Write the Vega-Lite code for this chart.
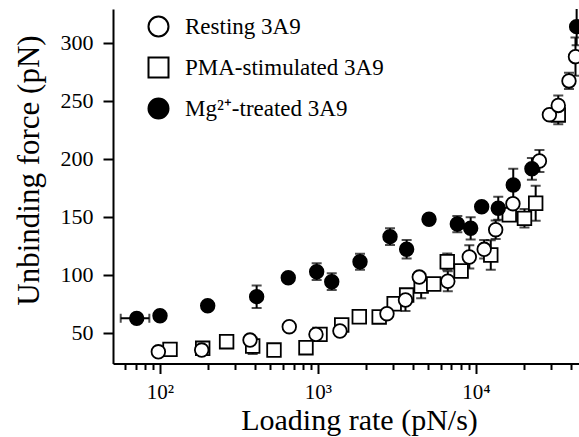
{
  "$schema": "https://vega.github.io/schema/vega-lite/v6.json",
  "width": 466,
  "height": 354.5,
  "autosize": {"type": "none"},
  "padding": {"left": 113, "top": 9, "right": 0, "bottom": 73.5},
  "config": {
    "font": "Liberation Serif",
    "view": {"stroke": null},
    "axis": {
      "grid": false,
      "domainColor": "black",
      "domainWidth": 2,
      "tickColor": "black",
      "tickWidth": 2,
      "labelColor": "black",
      "labelFont": "Liberation Serif",
      "labelFontSize": 22,
      "titleFont": "Liberation Serif",
      "titleFontSize": 31,
      "titleFontWeight": "normal",
      "titleColor": "black"
    },
    "legend": {
      "title": null,
      "orient": "none",
      "legendX": 34,
      "legendY": 6,
      "padding": 0,
      "symbolSize": 400,
      "symbolStrokeWidth": 2,
      "labelFontSize": 23,
      "labelFont": "Liberation Serif",
      "labelColor": "black",
      "labelOffset": 15,
      "labelLimit": 400,
      "rowPadding": 12
    }
  },
  "data": {
    "values": [
      {"group": "PMA-stimulated 3A9", "rate": 115.7, "force": 35.7},
      {"group": "PMA-stimulated 3A9", "rate": 186.3, "force": 36.6},
      {"group": "PMA-stimulated 3A9", "rate": 264, "force": 42.3},
      {"group": "PMA-stimulated 3A9", "rate": 386, "force": 38.6, "lo": 31.6, "hi": 45.6},
      {"group": "PMA-stimulated 3A9", "rate": 526.7, "force": 35.1},
      {"group": "PMA-stimulated 3A9", "rate": 839.5, "force": 37.1},
      {"group": "PMA-stimulated 3A9", "rate": 1030, "force": 48.6},
      {"group": "PMA-stimulated 3A9", "rate": 1413, "force": 56.7},
      {"group": "PMA-stimulated 3A9", "rate": 1826, "force": 63.8},
      {"group": "PMA-stimulated 3A9", "rate": 2440, "force": 63.6},
      {"group": "PMA-stimulated 3A9", "rate": 3035, "force": 75},
      {"group": "PMA-stimulated 3A9", "rate": 3641, "force": 82.5},
      {"group": "PMA-stimulated 3A9", "rate": 4500, "force": 90.3, "lo": 79.7, "hi": 100.9},
      {"group": "PMA-stimulated 3A9", "rate": 5400, "force": 92},
      {"group": "PMA-stimulated 3A9", "rate": 6580, "force": 111.2, "lo": 104.2, "hi": 118.2},
      {"group": "PMA-stimulated 3A9", "rate": 8055, "force": 103.2},
      {"group": "PMA-stimulated 3A9", "rate": 12410, "force": 117, "lo": 104.2, "hi": 129.8},
      {"group": "PMA-stimulated 3A9", "rate": 16250, "force": 151.7},
      {"group": "PMA-stimulated 3A9", "rate": 20280, "force": 148.6, "lo": 140.6, "hi": 156.6},
      {"group": "PMA-stimulated 3A9", "rate": 23880, "force": 161.6, "lo": 146.6, "hi": 176.6},
      {"group": "PMA-stimulated 3A9", "rate": 33190, "force": 237.7, "lo": 229.7, "hi": 245.7},
      {"group": "Resting 3A9", "rate": 97.6, "force": 33.6},
      {"group": "Resting 3A9", "rate": 183.6, "force": 35.1},
      {"group": "Resting 3A9", "rate": 371.3, "force": 43.7},
      {"group": "Resting 3A9", "rate": 658, "force": 55.2},
      {"group": "Resting 3A9", "rate": 971, "force": 48.6},
      {"group": "Resting 3A9", "rate": 1377, "force": 51.5},
      {"group": "Resting 3A9", "rate": 2733, "force": 66.4},
      {"group": "Resting 3A9", "rate": 3580, "force": 78.2, "lo": 68.7, "hi": 87.7},
      {"group": "Resting 3A9", "rate": 4377, "force": 98},
      {"group": "Resting 3A9", "rate": 6633, "force": 94.4, "lo": 85.8, "hi": 103},
      {"group": "Resting 3A9", "rate": 9075, "force": 115.3, "lo": 105.3, "hi": 125.3},
      {"group": "Resting 3A9", "rate": 11270, "force": 121.9, "lo": 113.9, "hi": 129.9},
      {"group": "Resting 3A9", "rate": 13330, "force": 138.8, "lo": 130.8, "hi": 146.8},
      {"group": "Resting 3A9", "rate": 17140, "force": 161.2},
      {"group": "Resting 3A9", "rate": 25220, "force": 198, "lo": 188.5, "hi": 207.5},
      {"group": "Resting 3A9", "rate": 29170, "force": 237.9},
      {"group": "Resting 3A9", "rate": 33190, "force": 245.9, "lo": 237.3, "hi": 254.5},
      {"group": "Resting 3A9", "rate": 38800, "force": 267, "lo": 260, "hi": 274},
      {"group": "Resting 3A9", "rate": 42660, "force": 287.9, "lo": 271.4, "hi": 304.4},
      {"group": "Mg²⁺-treated 3A9", "rate": 71.2, "force": 62.4, "xlo": 56.4, "xhi": 85.6},
      {"group": "Mg²⁺-treated 3A9", "rate": 100, "force": 64.7},
      {"group": "Mg²⁺-treated 3A9", "rate": 200.4, "force": 73.3},
      {"group": "Mg²⁺-treated 3A9", "rate": 409, "force": 81.1, "lo": 71.4, "hi": 90.8},
      {"group": "Mg²⁺-treated 3A9", "rate": 648.6, "force": 97.4},
      {"group": "Mg²⁺-treated 3A9", "rate": 981, "force": 102.6, "lo": 95.4, "hi": 109.8},
      {"group": "Mg²⁺-treated 3A9", "rate": 1222, "force": 94, "lo": 86.8, "hi": 101.2},
      {"group": "Mg²⁺-treated 3A9", "rate": 1845, "force": 111.2, "lo": 104.3, "hi": 118.1},
      {"group": "Mg²⁺-treated 3A9", "rate": 2857, "force": 132.8, "lo": 125.6, "hi": 140},
      {"group": "Mg²⁺-treated 3A9", "rate": 3641, "force": 121.9, "lo": 113.9, "hi": 129.9},
      {"group": "Mg²⁺-treated 3A9", "rate": 5045, "force": 147.8},
      {"group": "Mg²⁺-treated 3A9", "rate": 7621, "force": 143.7, "lo": 136.7, "hi": 150.7},
      {"group": "Mg²⁺-treated 3A9", "rate": 9256, "force": 140, "lo": 130.4, "hi": 149.6},
      {"group": "Mg²⁺-treated 3A9", "rate": 10870, "force": 158.6},
      {"group": "Mg²⁺-treated 3A9", "rate": 13840, "force": 157.3, "lo": 147.3, "hi": 167.3},
      {"group": "Mg²⁺-treated 3A9", "rate": 17220, "force": 177.3, "lo": 163.3, "hi": 191.3},
      {"group": "Mg²⁺-treated 3A9", "rate": 22600, "force": 191.3, "lo": 181.9, "hi": 200.7},
      {"group": "Mg²⁺-treated 3A9", "rate": 43380, "force": 313.8, "lo": 297.8, "hi": 329.8}
    ]
  },
  "layer": [
    {
      "transform": [{"filter": "isValid(datum.lo)"}],
      "mark": {"type": "rule", "color": "black", "strokeWidth": 2, "clip": true},
      "encoding": {
        "x": {"field": "rate", "type": "quantitative", "scale": {"type": "log", "domain": [50.4, 44900], "nice": false}, "axis": {"title": "Loading rate (pN/s)", "values": [60,70,80,90,100,200,300,400,500,600,700,800,900,1000,2000,3000,4000,5000,6000,7000,8000,9000,10000,20000,30000,40000], "labelExpr": "datum.value == 100 ? '10²' : datum.value == 1000 ? '10³' : datum.value == 10000 ? '10⁴' : ''", "labelOverlap": false, "labelFontSize": 21, "labelPadding": 8, "tickSize": {"condition": {"test": "datum.value == 100 || datum.value == 1000 || datum.value == 10000", "value": 10}, "value": 6}, "titleFontSize": 30, "titleX": 246, "titleY": 66, "titleBaseline": "alphabetic"}},
        "y": {"field": "lo", "type": "quantitative", "scale": {"domain": [23.5, 329], "nice": false, "zero": false}, "axis": {"title": "Unbinding force (pN)", "values": [50,100,150,200,250,300], "tickSize": 10, "labelPadding": 10, "titleX": -84, "titleY": 161, "titleBaseline": "middle"}},
        "y2": {"field": "hi"}
      }
    },
    {
      "transform": [{"filter": "isValid(datum.lo)"}],
      "mark": {"type": "tick", "orient": "horizontal", "color": "black", "size": 10, "thickness": 2, "clip": true},
      "encoding": {
        "x": {"field": "rate", "type": "quantitative", "scale": {"type": "log", "domain": [50.4, 44900], "nice": false}},
        "y": {"field": "lo", "type": "quantitative"}
      }
    },
    {
      "transform": [{"filter": "isValid(datum.hi)"}],
      "mark": {"type": "tick", "orient": "horizontal", "color": "black", "size": 10, "thickness": 2, "clip": true},
      "encoding": {
        "x": {"field": "rate", "type": "quantitative", "scale": {"type": "log", "domain": [50.4, 44900], "nice": false}},
        "y": {"field": "hi", "type": "quantitative"}
      }
    },
    {
      "transform": [{"filter": "isValid(datum.xlo)"}],
      "mark": {"type": "rule", "color": "black", "strokeWidth": 2, "clip": true},
      "encoding": {
        "x": {"field": "xlo", "type": "quantitative", "scale": {"type": "log", "domain": [50.4, 44900], "nice": false}},
        "x2": {"field": "xhi"},
        "y": {"field": "force", "type": "quantitative"}
      }
    },
    {
      "transform": [{"filter": "isValid(datum.xlo)"}],
      "mark": {"type": "tick", "orient": "vertical", "color": "black", "size": 9, "thickness": 2, "clip": true},
      "encoding": {
        "x": {"field": "xlo", "type": "quantitative", "scale": {"type": "log", "domain": [50.4, 44900], "nice": false}},
        "y": {"field": "force", "type": "quantitative"}
      }
    },
    {
      "transform": [{"filter": "isValid(datum.xhi)"}],
      "mark": {"type": "tick", "orient": "vertical", "color": "black", "size": 9, "thickness": 2, "clip": true},
      "encoding": {
        "x": {"field": "xhi", "type": "quantitative", "scale": {"type": "log", "domain": [50.4, 44900], "nice": false}},
        "y": {"field": "force", "type": "quantitative"}
      }
    },
    {
      "mark": {"type": "point", "filled": true, "strokeWidth": 1.8, "size": 185, "opacity": 1, "clip": true},
      "encoding": {
        "x": {"field": "rate", "type": "quantitative", "scale": {"type": "log", "domain": [50.4, 44900], "nice": false}, "axis": {"title": "Loading rate (pN/s)", "values": [60,70,80,90,100,200,300,400,500,600,700,800,900,1000,2000,3000,4000,5000,6000,7000,8000,9000,10000,20000,30000,40000], "labelExpr": "datum.value == 100 ? '10²' : datum.value == 1000 ? '10³' : datum.value == 10000 ? '10⁴' : ''", "labelOverlap": false, "labelFontSize": 21, "labelPadding": 8, "tickSize": {"condition": {"test": "datum.value == 100 || datum.value == 1000 || datum.value == 10000", "value": 10}, "value": 6}, "titleFontSize": 30, "titleX": 246, "titleY": 66, "titleBaseline": "alphabetic"}},
        "y": {"field": "force", "type": "quantitative", "scale": {"domain": [23.5, 329], "nice": false, "zero": false}, "axis": {"title": "Unbinding force (pN)", "values": [50,100,150,200,250,300], "tickSize": 10, "labelPadding": 10, "titleX": -84, "titleY": 161, "titleBaseline": "middle"}},
        "shape": {"field": "group", "type": "nominal", "scale": {"domain": ["Resting 3A9", "PMA-stimulated 3A9", "Mg²⁺-treated 3A9"], "range": ["circle", "square", "circle"]}, "legend": {}},
        "fill": {"field": "group", "type": "nominal", "scale": {"domain": ["Resting 3A9", "PMA-stimulated 3A9", "Mg²⁺-treated 3A9"], "range": ["white", "white", "black"]}, "legend": {}},
        "stroke": {"field": "group", "type": "nominal", "scale": {"domain": ["Resting 3A9", "PMA-stimulated 3A9", "Mg²⁺-treated 3A9"], "range": ["black", "black", "black"]}, "legend": {}}
      }
    }
  ]
}
